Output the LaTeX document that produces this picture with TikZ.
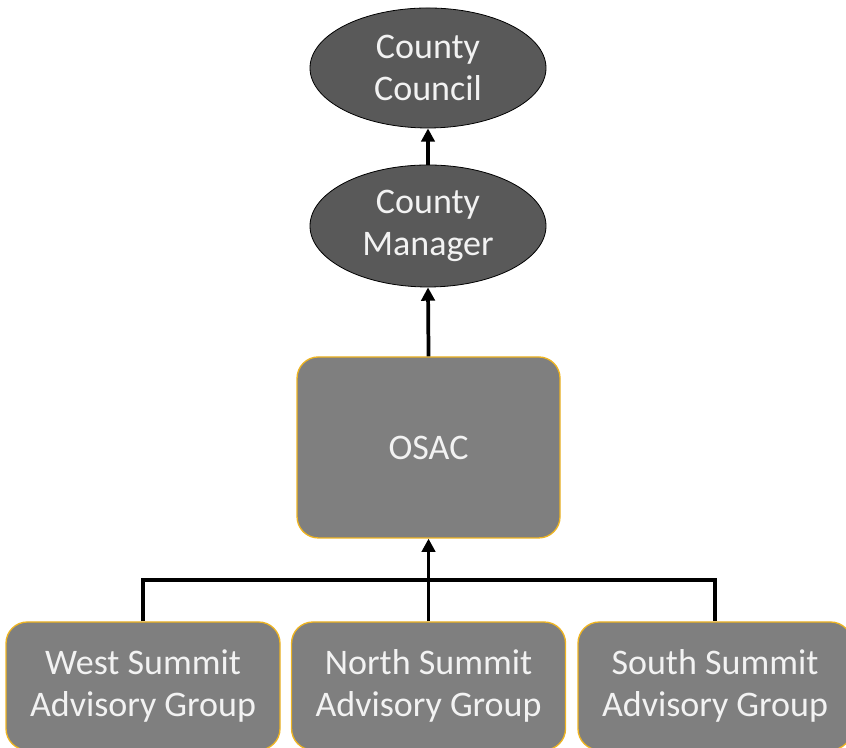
\documentclass[tikz,border=0pt]{standalone}
\usepackage{fontspec}
\setmainfont{Carlito}
\usetikzlibrary{shapes.geometric, arrows.meta}

\definecolor{ovalgray}{HTML}{595959}
\definecolor{boxgray}{HTML}{7F7F7F}
\definecolor{boxgold}{HTML}{EEB422}
\definecolor{textwhite}{HTML}{F2F2F2}

\begin{document}
\begin{tikzpicture}[
			x=1pt, y=1pt,
			oval/.style={
				ellipse,
				draw=black,
				line width=0.6pt,
				fill=ovalgray,
				minimum width=177pt,
				minimum height=90pt,
				inner sep=0pt,
				align=center,
				text=textwhite,
				font=\fontsize{27}{31.5}\selectfont
			},
			box/.style={
				rectangle,
				draw=boxgold,
				line width=1pt,
				fill=boxgray,
				rounded corners=16pt,
				minimum width=205.5pt,
				minimum height=96pt,
				inner sep=0pt,
				align=center,
				text=textwhite,
				font=\fontsize{27}{32}\selectfont
			},
			arrow/.style={-{Triangle[length=10pt, width=10pt]}, line width=2.8pt},
			link/.style={line width=2.8pt}
			]
			
			\clip (0,0) rectangle (634.5,561);
			\useasboundingbox (0,0) rectangle (634.5,561);
			
			\node (council) [oval] at (321,510) {County\\Council};
			\node (manager) [oval, minimum height=91.5pt] at (321,391.5) {County\\Manager};
			
			\node (osac) [box, minimum width=197.25pt, minimum height=135.75pt] at (321.4,225.4) {OSAC};
			
			\node (west) [box] at (107.25,46.5) {West Summit\\Advisory Group};
			\node (north) [box] at (321.4,46.5) {North Summit\\Advisory Group};
			\node (south) [box] at (536.25,46.5) {South Summit\\Advisory Group};
			
			\coordinate (barw) at (107.25,126);
			\coordinate (bare) at (536.25,126);
			
			\draw [arrow] (manager.north) -- (council.south);
			\draw [arrow] (osac.north) -- (manager.south);
			\draw [arrow] (north.north) -- (osac.south);
			\draw [link] (west.north) -- (barw) -- (bare) -- (south.north);
			
		\end{tikzpicture}
\end{document}
